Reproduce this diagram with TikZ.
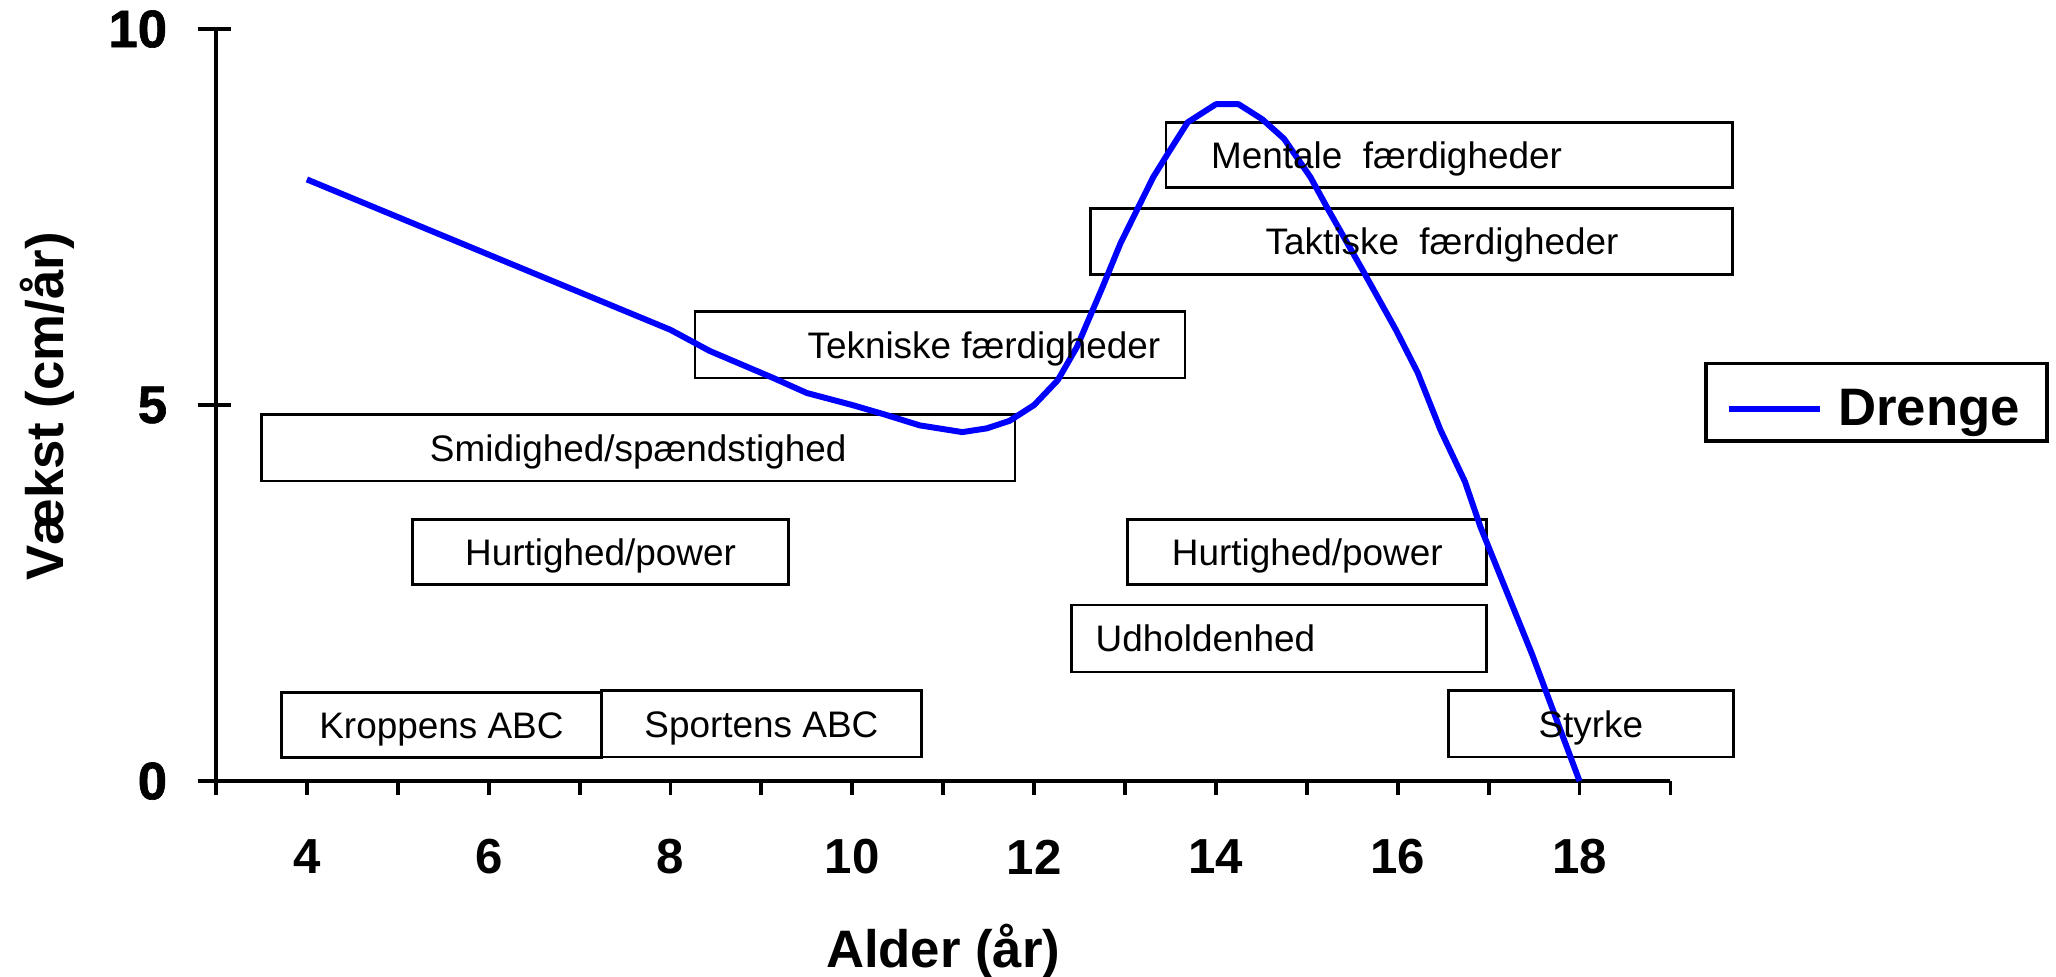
\documentclass[tikz,border=0pt]{standalone}
\usepackage{fontspec}
\setmainfont{Liberation Sans}
\newfontfamily\tykfont[FakeBold=1.2]{Liberation Sans Bold}

\begin{document}
\begin{tikzpicture}[x=0.909cm, y=0.752cm,
    felt/.style={draw, line width=0.8pt},
    tekst/.style={inner sep=0pt, font=\fontsize{10.5}{12}\selectfont, text height=7.5pt, text depth=0pt},
    tal/.style={inner sep=0pt, font=\bfseries\fontsize{14}{16}\selectfont},
    ytal/.style={inner sep=0pt, font=\tykfont\fontsize{15}{17}\selectfont},
    akse/.style={inner sep=0pt, font=\bfseries\fontsize{15}{18}\selectfont},
    kurve/.style={blue, line width=1.7pt, line join=round}]
  \useasboundingbox (0.624,-2.593) rectangle (23.242,10.386);
  % akser
  \draw[line width=1.1pt] (3,10) -- (3,0) -- (19,0);
  \foreach \x in {3,...,19} \draw[line width=1.1pt] (\x,0) -- ++(0,-0.14cm);
  \foreach \y in {0,5,10} {
    \draw[line width=1.1pt] (3,\y) ++(-0.18cm,0) -- ++(0.33cm,0);
    \node[ytal, anchor=east] (y\y) at (2.47,\y) {\y};
  }
  \foreach \x in {4,6,...,18} \node[tal] (x\x) at (\x,-1.01) {\x};
  \node[akse] (alder) at (11,-2.26) {Alder (år)};
  \node[akse, rotate=90] (vaekst) at (1.14,4.98) {Vækst (cm/år)};
  % felter
  \draw[felt] (13.45,7.89) rectangle (19.68,8.76);
  \draw[felt] (12.62,6.74) rectangle (19.68,7.61);
  \draw[felt] (8.27,5.36) rectangle (13.66,6.24);
  \draw[felt] (3.50,3.99) rectangle (11.79,4.87);
  \draw[felt] (5.16,2.61) rectangle (9.30,3.48);
  \draw[felt] (13.03,2.61) rectangle (16.98,3.48);
  \draw[felt] (12.41,1.45) rectangle (16.98,2.34);
  \draw[felt] (3.72,0.31) rectangle (7.24,1.18);
  \draw[felt] (7.24,0.32) rectangle (10.76,1.20);
  \draw[felt] (16.56,0.32) rectangle (19.69,1.20);
  % vaekstkurve
  \draw[kurve] plot coordinates {(4,8) (8,6) (8.43,5.72) (9.13,5.36) (9.5,5.16) (10,5.0)
    (10.34,4.88) (10.74,4.73) (11.21,4.64) (11.48,4.69) (11.73,4.79) (12,5.0) (12.26,5.33)
    (12.47,5.77) (12.75,6.56) (12.95,7.15) (13.13,7.59) (13.31,8.03) (13.48,8.36) (13.69,8.76)
    (14.0,9.0) (14.25,9.0) (14.51,8.8) (14.75,8.54) (15.04,8.03) (15.24,7.59) (15.63,6.76)
    (15.98,6.0) (16.22,5.43) (16.47,4.67) (16.74,3.98) (16.91,3.38) (17.48,1.68) (18,0)};
  % tekster
  \node[tekst, anchor=west] (mentale) at (13.94,8.325) {Mentale\ \ færdigheder};
  \node[tekst, anchor=west] (taktiske) at (14.54,7.175) {Taktiske\ \ færdigheder};
  \node[tekst, anchor=west] (tekniske) at (9.50,5.80) {Tekniske færdigheder};
  \node[tekst] (smidighed) at (7.645,4.43) {Smidighed/spændstighed};
  \node[tekst] (hurtig1) at (7.23,3.045) {Hurtighed/power};
  \node[tekst] (hurtig2) at (15.005,3.045) {Hurtighed/power};
  \node[tekst, anchor=west] (udholdenhed) at (12.67,1.895) {Udholdenhed};
  \node[tekst] (kroppens) at (5.48,0.745) {Kroppens ABC};
  \node[tekst] (sportens) at (9.0,0.76) {Sportens ABC};
  \node[tekst] (styrke) at (18.125,0.76) {Styrke};
  % legende
  \draw[line width=1pt] (19.39,4.52) rectangle (23.14,5.55);
  \draw[kurve] (19.64,4.95) -- (20.65,4.95);
  \node[akse, anchor=base west] (drenge) at (20.84,4.73) {Drenge};
\end{tikzpicture}
\end{document}
